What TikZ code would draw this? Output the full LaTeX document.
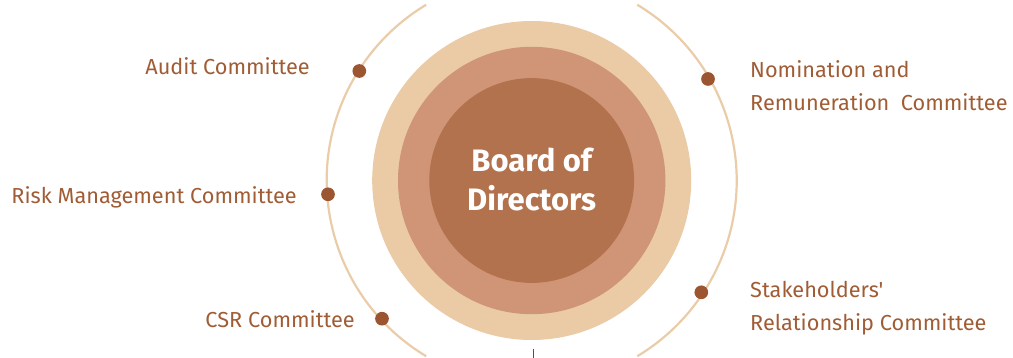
\documentclass[tikz,border=0pt]{standalone}
\usepackage{fontspec}
\setmainfont{Fira Sans}
\newfontfamily\lblfont{Fira Sans}
\definecolor{outerc}{RGB}{234,203,165}
\definecolor{midc}{RGB}{208,148,118}
\definecolor{innerc}{RGB}{178,114,78}
\definecolor{arcc}{RGB}{234,205,168}
\definecolor{dotc}{RGB}{155,85,48}
\definecolor{txtc}{RGB}{160,92,52}
\definecolor{tealc}{RGB}{40,100,100}
\tikzset{
  dot/.style={circle, fill=dotc, inner sep=0pt, minimum size=13.7pt},
  lbl/.style={text=txtc, inner sep=0pt, font=\lblfont\fontsize{21.7}{33}\selectfont},
  orbit/.style={draw=arcc, line width=2.2pt},
}
\begin{document}
\begin{tikzpicture}[x=1pt,y=-1pt]
\useasboundingbox (0,0) rectangle (1013,358);
\coordinate (c) at (531.7,180.5);
\fill[outerc] (c) circle (159.5);
\fill[midc] (c) circle (133.7);
\fill[innerc] (c) circle (102.4);
\draw[orbit] (c) ++(121:205) arc[start angle=121, end angle=239, radius=205];
\draw[orbit] (c) ++(-59:205) arc[start angle=-59, end angle=59, radius=205];
\draw[tealc, line width=1pt] (533.3,349) -- (533.3,358);
\node[text=white, font=\bfseries\fontsize{31}{39}\selectfont, align=center, inner sep=0pt] (board) at (531.7,180) {Board of\\Directors};
\node[dot] (d1) at (359.3,71) {};
\node[dot] (d2) at (328,194.3) {};
\node[dot] (d3) at (382,318.7) {};
\node[dot] (d4) at (708,79) {};
\node[dot] (d5) at (701.3,292.3) {};
\node[lbl, anchor=base east] (audit) at (310,75) {Audit Committee};
\node[lbl, anchor=base east] (risk) at (297,204) {Risk Management Committee};
\node[lbl, anchor=base east] (csr) at (355,328) {CSR Committee};
\node[lbl, anchor=base west, align=left] (nom) at (750,110.7) {Nomination and\\Remuneration\ \ Committee};
\node[lbl, anchor=base west, align=left] (stake) at (750,330.7) {Stakeholders'\\Relationship Committee};
\end{tikzpicture}
\end{document}
